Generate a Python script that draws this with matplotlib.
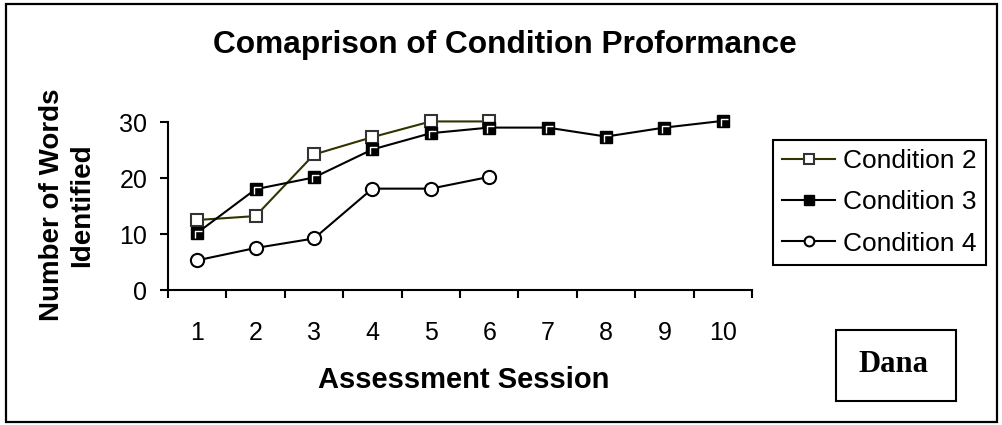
import matplotlib
matplotlib.use("Agg")
import matplotlib.pyplot as plt
from matplotlib.patches import Rectangle
from matplotlib.path import Path

plt.rcParams['font.family'] = ['Liberation Sans', 'DejaVu Sans']

sessions = [1, 2, 3, 4, 5, 6, 7, 8, 9, 10]
session_labels = ['1', '2', '3', '4', '5', '6', '7', '8', '9', '10']
cond2 = [12.5, 13.2, 24.2, 27.3, 30.1, 30.1]
cond3 = [10.2, 18.0, 20.1, 25.1, 28.0, 29.0, 29.0, 27.4, 29.0, 30.2]
cond4 = [5.3, 7.5, 9.2, 18.1, 18.1, 20.2]
y_ticks = [0, 10, 20, 30]

W, H = 1003, 425
fig = plt.figure(figsize=(W / 100, H / 100), dpi=100)

def fx(px):
    return px / W

def fy(py):
    return 1 - py / H

# outer chart frame
fig.patches.append(Rectangle((fx(6), fy(422)), fx(991), 418 / H, transform=fig.transFigure,
                             fill=False, edgecolor='black', linewidth=1.6))

ax = fig.add_axes([fx(168), fy(290), fx(752 - 168), (290 - 122) / H])

ax.plot(sessions[:len(cond2)], cond2, color='#333300', linewidth=1.5, marker='s',
        markersize=8.5, markerfacecolor='white', markeredgecolor='#333333',
        markeredgewidth=1.5, label='Condition 2', zorder=3, clip_on=False)
ax.plot(sessions, cond3, color='black', linewidth=1.5, marker='s',
        markersize=8.5, markerfacecolor='black', markeredgecolor='black',
        markeredgewidth=1.0, label='Condition 3', zorder=4, clip_on=False)
# inner white bevel stroke on the filled squares
bevel = Path([(-0.55, -1.0), (-0.55, 0.55), (1.0, 0.55)],
             [Path.MOVETO, Path.LINETO, Path.LINETO])
ax.plot(sessions, cond3, linestyle='none', marker=bevel, markersize=6.5,
        markerfacecolor='none', markeredgecolor='white', markeredgewidth=1.0,
        zorder=5, clip_on=False)
ax.plot(sessions[:len(cond4)], cond4, color='black', linewidth=1.5, marker='o',
        markersize=9.5, markerfacecolor='white', markeredgecolor='black',
        markeredgewidth=1.5, label='Condition 4', zorder=3, clip_on=False)

ax.set_xlim(0.5, 10.5)
ax.set_ylim(0, 30)
ax.set_xticks(sessions)
ax.set_xticklabels(session_labels, fontsize=18)
ax.set_xticks([s - 0.5 for s in sessions] + [10.5], minor=True)
ax.tick_params(axis='x', which='major', length=0, pad=22)
ax.tick_params(axis='x', which='minor', length=6, width=1.5, direction='out')
ax.set_yticks(y_ticks)
ax.set_yticklabels([str(v) for v in y_ticks], fontsize=18)
ax.tick_params(axis='y', length=6, width=1.5, direction='out', pad=9)

for side in ('top', 'right'):
    ax.spines[side].set_visible(False)
for side in ('left', 'bottom'):
    ax.spines[side].set_linewidth(1.5)

fig.text(fx(464), fy(380), 'Assessment Session', ha='center', va='center',
         fontsize=21, fontweight='bold')
fig.text(fx(67), fy(205), 'Number of Words\nIdentified', rotation=90, ha='center',
         va='center', fontsize=20, fontweight='bold', linespacing=1.2)
fig.text(fx(505), fy(45), 'Comaprison of Condition Proformance', ha='center',
         va='center', fontsize=22.8, fontweight='bold')

leg = ax.legend(loc='upper left', bbox_to_anchor=(fx(773), fy(140)),
                bbox_transform=fig.transFigure, fontsize=19, frameon=True,
                fancybox=False, edgecolor='black', handlelength=2.0,
                handletextpad=0.32, borderpad=0.35, labelspacing=0.65,
                borderaxespad=0)
leg.get_frame().set_linewidth(1.5)
leg.get_frame().set_alpha(1)
for h in leg.legend_handles:
    h.set_markersize(7)

# name box
fig.patches.append(Rectangle((fx(836), fy(401)), fx(956 - 836), (401 - 330) / H,
                             transform=fig.transFigure, fill=False,
                             edgecolor='black', linewidth=1.5))
fig.text(fx(893), fy(364), 'Dana', ha='center', va='center', fontsize=22,
         fontweight='bold', family=['Liberation Serif', 'DejaVu Serif'])

fig.savefig('out.png', dpi=100)
